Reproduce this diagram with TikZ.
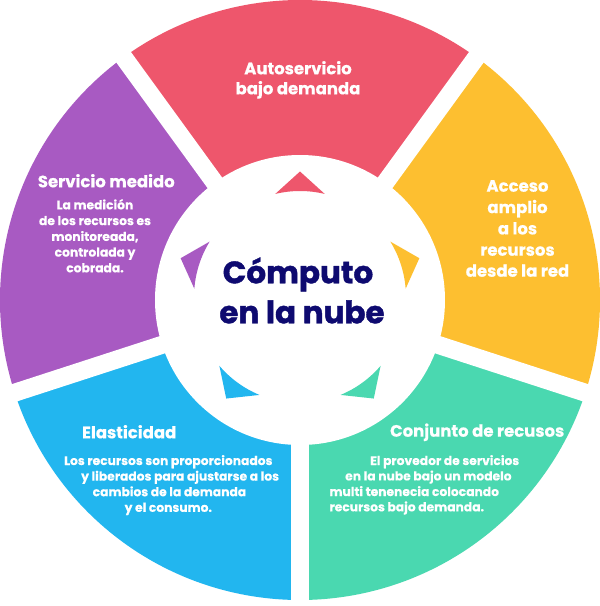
\documentclass[tikz,border=0pt]{standalone}
\usepackage{fontspec}
\setmainfont{Poppins}
\definecolor{cred}{HTML}{EE566C}
\definecolor{cyellow}{HTML}{FDBF30}
\definecolor{cgreen}{HTML}{4AD8B0}
\definecolor{cblue}{HTML}{22B6EF}
\definecolor{cpurple}{HTML}{A85AC2}
\definecolor{cnavy}{HTML}{0E0A70}
\begin{document}
\begin{tikzpicture}[x=1pt,y=1pt,
  lbl/.style={inner sep=0pt, text=white, font=\fontsize{16.5}{20}\selectfont\bfseries\addfontfeatures{FakeBold=0.5}},
  txt/.style={inner sep=0pt, text=white, font=\fontsize{12.3}{15}\selectfont\bfseries\addfontfeatures{FakeBold=0.4}},
  ctr/.style={inner sep=0pt, text=cnavy, font=\fontsize{31}{40}\selectfont\bfseries\addfontfeatures{FakeBold=1.2}},
  gap/.style={white, line width=18pt}]
\fill[white] (-300,-306) rectangle (300,300);
\useasboundingbox (-300,-306) rectangle (300,300);
% ring segments
\fill[cred] (0,0) -- (54:300) arc[start angle=54,end angle=126,radius=300] -- cycle;
\fill[cpurple] (0,0) -- (126:300) arc[start angle=126,end angle=198,radius=300] -- cycle;
\fill[cblue] (0,0) -- (198:300) arc[start angle=198,end angle=270,radius=300] -- cycle;
\fill[cgreen] (0,0) -- (270:300) arc[start angle=270,end angle=342,radius=300] -- cycle;
\fill[cyellow] (0,0) -- (-18:300) arc[start angle=-18,end angle=54,radius=300] -- cycle;
% gaps
\foreach \a in {54,126,198,270,342} \draw[gap] (0,0) -- (\a:305);
\fill[white] (0,0) circle[radius=145];
% inner arrow tips
\foreach \a/\c in {90/cred,18/cyellow,-54/cgreen,-126/cblue,162/cpurple}
  \fill[\c, shift={(0,3)}] (\a:125.5) -- (\a+13.5:106)
     arc[start angle=\a+13.5, end angle=\a-13.5, radius=106] -- cycle;
% centre
\node[ctr, anchor=base] (c1) at (-2,16.7) {Cómputo};
\node[ctr, anchor=base] (c2) at (2,-23.3) {en la nube};
% red
\node[lbl, anchor=base] (r1) at (-2,225.7) {Autoservicio};
\node[lbl, anchor=base] (r2) at (-2,205.7) {bajo demanda};
% yellow
\node[lbl, anchor=base] (y1) at (217.5,108.3) {Acceso};
\node[lbl, anchor=base] (y2) at (217.5,86.9) {amplio};
\node[lbl, anchor=base] (y3) at (217.5,65.6) {a los};
\node[lbl, anchor=base] (y4) at (217.5,44.3) {recursos};
\node[lbl, anchor=base] (y5) at (217.5,23.3) {desde la red};
% purple
\node[lbl, anchor=base] (p0) at (-193.7,112.7) {Servicio medido};
\node[txt, anchor=base] (p1) at (-205,90.7) {La medición};
\node[txt, anchor=base] (p2) at (-205,74.9) {de los recursos es};
\node[txt, anchor=base] (p3) at (-205,59.1) {monitoreada,};
\node[txt, anchor=base] (p4) at (-205,43.4) {controlada y};
\node[txt, anchor=base] (p5) at (-205,27.7) {cobrada.};
% blue
\node[lbl, anchor=base] (b0) at (-170.8,-138.3) {Elasticidad};
\node[txt, anchor=base west] (b1) at (-236,-165) {Los recursos son proporcionados};
\node[txt, anchor=base west] (b2) at (-219,-180.6) {y liberados para ajustarse a los};
\node[txt, anchor=base west] (b3) at (-207.5,-196.2) {cambios de la demanda};
\node[txt, anchor=base west] (b4) at (-175.5,-211.8) {y el consumo.};
% green
\node[lbl, anchor=base] (g0) at (177.2,-136.7) {Conjunto de recusos};
\node[txt, anchor=base west] (g1) at (70,-165) {El provedor de servicios};
\node[txt, anchor=base west] (g2) at (45,-180.4) {en la nube bajo un modelo};
\node[txt, anchor=base west] (g3) at (29.3,-196) {multi tenenecia colocando};
\node[txt, anchor=base west] (g4) at (29.3,-211.3) {recursos bajo demanda.};
\end{tikzpicture}
\end{document}
